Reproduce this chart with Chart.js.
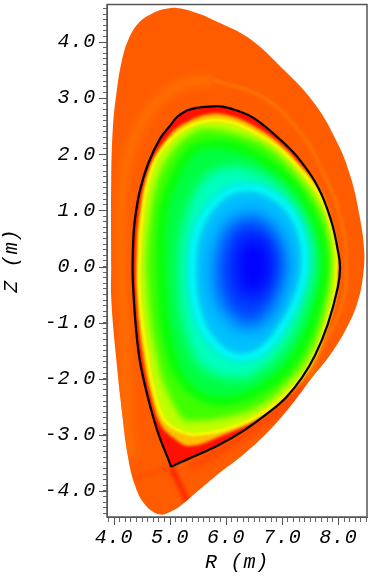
<!DOCTYPE html>
<html>
<head>
<meta charset="utf-8">
<style>
  html, body { margin: 0; padding: 0; background: #fff; }
  canvas { display: block; }
</style>
<script src="https://cdn.jsdelivr.net/npm/chart.js@4"></script>
</head>
<body>
<canvas id="myChart" width="371" height="577"></canvas>
<script>
// ticks
const majorR = [4, 5, 6, 7, 8];
const majorZ = [-4, -3, -2, -1, 0, 1, 2, 3, 4];

// outer edge of the map
const outerR = [3.95, 3.95, 4.02, 4.14, 4.25, 4.37, 4.55, 4.82, 5.05, 5.19, 5.78, 6.39, 6.98, 7.57, 7.87, 8.17, 8.35, 8.44, 8.46, 8.37, 8.22, 7.99, 7.57, 6.98, 6.39, 5.78, 5.50, 5.19, 4.95, 4.68, 4.43, 4.25, 4.14, 4.05, 3.98, 3.95, 3.95];
const outerZ = [-0.02, -0.55, -1.44, -2.57, -3.40, -3.89, -4.24, -4.42, -4.35, -4.26, -3.76, -3.28, -2.69, -1.93, -1.55, -1.05, -0.61, -0.16, 0.29, 0.94, 1.59, 2.19, 2.91, 3.55, 4.08, 4.39, 4.51, 4.60, 4.60, 4.51, 4.33, 4.03, 3.67, 3.14, 2.48, 1.53, -0.02];

// streaks outside the black line
const bandLeftR = [4.33, 4.23, 4.20, 4.14, 4.14, 4.29, 4.64, 5.18, 5.78];
const bandLeftZ = [-3.40, -2.75, -1.27, -0.43, 1.18, 2.07, 2.78, 3.23, 3.32];
const bandRightR = [5.78, 6.67, 7.33, 7.74, 8.05, 8.14, 8.05, 7.74, 7.46];
const bandRightZ = [3.32, 3.01, 2.37, 1.66, 0.82, -0.02, -0.73, -1.39, -2.03];
const legRedR = [5.02, 5.18, 5.32];
const legRedZ = [-3.57, -3.91, -4.21];
const legLeftR = [5.02, 4.64, 4.37];
const legLeftZ = [-3.57, -3.69, -3.78];
const lowerRedR = [5.35, 5.96, 6.80, 7.39];
const lowerRedZ = [-3.58, -3.23, -2.67, -2.14];

// black line
const sepR = [5.02, 4.77, 4.59, 4.46, 4.39, 4.34, 4.33, 4.34, 4.37, 4.46, 4.61, 4.82, 5.00, 5.12, 5.30, 5.48, 5.71, 5.94, 6.19, 6.50, 6.92, 7.28, 7.64, 7.87, 7.99, 8.03, 7.99, 7.81, 7.58, 7.35, 7.08, 6.80, 6.32, 5.85, 5.19, 5.02];
const sepZ = [-3.57, -2.92, -2.28, -1.68, -1.09, -0.37, -0.02, 0.41, 0.82, 1.35, 1.84, 2.28, 2.51, 2.66, 2.78, 2.83, 2.85, 2.85, 2.78, 2.64, 2.30, 1.94, 1.41, 0.82, 0.29, -0.02, -0.37, -1.03, -1.59, -1.98, -2.32, -2.57, -2.92, -3.19, -3.49, -3.57];

// colour contours, from the edge to the middle
const orangeR = [4.39, 4.40, 4.44, 4.52, 4.64, 4.82, 5.05, 5.35, 5.96, 6.57, 7.03, 7.46, 7.77, 7.94, 8.00, 7.98, 7.85, 7.66, 7.29, 6.92, 6.50, 6.09, 5.72, 5.35, 5.02, 4.64, 4.44, 4.39];
const orangeZ = [0.00, -0.37, -1.00, -1.62, -2.22, -2.80, -3.05, -3.20, -3.00, -2.72, -2.36, -1.87, -1.19, -0.55, -0.02, 0.26, 0.86, 1.38, 1.85, 2.22, 2.50, 2.68, 2.72, 2.60, 2.37, 1.76, 0.86, 0.00];
const yellowR = [4.45, 4.45, 4.50, 4.59, 4.70, 4.87, 5.05, 5.35, 5.50, 5.96, 6.57, 7.03, 7.46, 7.74, 7.92, 7.96, 7.96, 7.83, 7.64, 7.28, 6.92, 6.50, 6.09, 5.68, 5.35, 5.00, 4.68, 4.50, 4.45];
const yellowZ = [0.00, -0.37, -0.96, -1.57, -2.16, -2.69, -2.87, -2.99, -2.99, -2.91, -2.66, -2.30, -1.80, -1.14, -0.55, -0.02, 0.23, 0.82, 1.30, 1.76, 2.12, 2.39, 2.57, 2.60, 2.50, 2.25, 1.76, 0.82, 0.00];
const limeR = [4.57, 4.64, 4.75, 4.89, 5.21, 5.30, 5.89, 6.55, 7.03, 7.46, 7.71, 7.87, 7.78, 7.56, 7.21, 6.82, 6.39, 5.64, 5.35, 5.05, 4.77, 4.62, 4.57];
const limeZ = [0.00, -0.91, -1.53, -2.09, -2.71, -2.75, -2.71, -2.51, -2.14, -1.60, -0.93, -0.02, 0.73, 1.23, 1.69, 2.07, 2.30, 2.46, 2.35, 2.07, 1.53, 0.71, 0.00];
const greenR = [4.84, 4.88, 5.00, 5.23, 5.62, 6.07, 6.51, 7.05, 7.44, 7.67, 7.74, 7.67, 7.44, 7.08, 6.60, 6.16, 5.75, 5.39, 5.14, 4.90, 4.84, 4.84];
const greenZ = [0.00, -0.78, -1.50, -2.03, -2.35, -2.39, -2.25, -1.85, -1.23, -0.52, -0.02, 0.55, 1.09, 1.57, 1.94, 2.14, 2.19, 2.07, 1.71, 1.09, 0.46, 0.00];
const springR = [5.15, 5.18, 5.32, 5.58, 6.16, 6.58, 7.03, 7.36, 7.57, 7.51, 7.29, 6.95, 6.50, 6.08, 5.70, 5.40, 5.19, 5.15];
const springZ = [-0.03, -0.70, -1.32, -1.80, -2.00, -1.87, -1.45, -0.80, 0.00, 0.55, 1.04, 1.44, 1.70, 1.78, 1.65, 1.25, 0.50, -0.03];
const cyanR = [5.39, 5.44, 5.62, 5.93, 6.25, 6.64, 7.01, 7.28, 7.40, 7.35, 7.14, 6.78, 6.41, 5.98, 5.62, 5.44, 5.39];
const cyanZ = [-0.07, -0.61, -1.14, -1.50, -1.62, -1.50, -1.05, -0.52, 0.02, 0.55, 1.00, 1.30, 1.41, 1.30, 0.91, 0.46, -0.07];
const azureR = [5.80, 5.89, 6.16, 6.39, 6.69, 6.92, 7.05, 6.96, 6.74, 6.46, 6.10, 5.89, 5.80];
const azureZ = [-0.07, -0.61, -0.96, -1.07, -0.93, -0.52, 0.02, 0.46, 0.78, 0.91, 0.78, 0.43, -0.07];
const blueR = [6.16, 6.25, 6.48, 6.71, 6.82, 6.71, 6.48, 6.25, 6.16];
const blueZ = [0.02, -0.43, -0.55, -0.39, 0.05, 0.43, 0.55, 0.43, 0.02];

function pts(rs, zs) {
    return rs.map((r, i) => ({ x: r, y: zs[i] }));
}

// filled contour
function area(rs, zs, color, blur) {
    return { data: pts(rs, zs), fillColor: color, blur: blur, borderWidth: 0 };
}

// stroked streak, kept inside the outer edge
function streak(rs, zs, color, width, blur) {
    return { data: pts(rs, zs), borderColor: color, borderWidth: width, blur: blur, clipOuter: true };
}

// bottom layer first. fill colour is halfway to the next contour colour,
// the pure yellow, green and cyan are put back as soft strokes on their contours
const layers = [
    area(outerR, outerZ, '#ff5c00', 0),
    streak(bandLeftR, bandLeftZ, '#ff7000', 10, 4),
    streak(bandRightR, bandRightZ, '#ff7600', 3, 1.5),
    streak(lowerRedR, lowerRedZ, '#ff4800', 9, 3),
    streak(legLeftR, legLeftZ, '#ff4c00', 3, 2),
    streak(legRedR, legRedZ, '#ff2000', 5, 2),
    area(sepR, sepZ, '#ff1000', 0),
    area(orangeR, orangeZ, '#ffc000', 1.5),
    area(yellowR, yellowZ, '#c0ff00', 2),
    streak(yellowR, yellowZ, '#ffff00', 2.5, 1),
    area(limeR, limeZ, '#40ff00', 3),
    area(greenR, greenZ, '#00ff40', 5),
    streak(greenR, greenZ, '#00ff00', 6, 3),
    area(springR, springZ, '#00ffc0', 6),
    area(cyanR, cyanZ, '#00c0ff', 6),
    streak(cyanR, cyanZ, '#00ffff', 5, 2.5),
    area(azureR, azureZ, '#0040ff', 9),
    area(blueR, blueZ, '#0000ff', 9),
    streak(sepR, sepZ, '#000000', 2.2, 0)
];
layers.forEach((l, i) => {
    l.order = layers.length - i;
    l.showLine = true;
    l.pointRadius = 0;
    l.tension = 0.4;
    l.fill = false;
    l.borderJoinStyle = 'miter';
});

const contourPlugin = {
    id: 'contourPlugin',
    beforeDraw(chart) {
        chart.ctx.letterSpacing = '0.8px';
    },
    beforeDatasetDraw(chart, args) {
        const ctx = chart.ctx;
        const ds = chart.data.datasets[args.index];
        ctx.save();
        if (ds.clipOuter) {
            ctx.beginPath();
            chart.getDatasetMeta(0).dataset.path(ctx);
            ctx.closePath();
            ctx.clip();
        }
        if (ds.blur) ctx.filter = 'blur(' + ds.blur + 'px)';
        if (ds.fillColor) {
            ctx.beginPath();
            args.meta.dataset.path(ctx);
            ctx.closePath();
            ctx.fillStyle = ds.fillColor;
            ctx.fill();
        }
    },
    afterDatasetDraw(chart) {
        chart.ctx.restore();
    },
    // frame and long ticks
    afterDraw(chart) {
        const ctx = chart.ctx;
        const a = chart.chartArea;
        const x = chart.scales.x;
        const y = chart.scales.y;
        ctx.save();
        ctx.strokeStyle = '#555';
        ctx.lineWidth = 1.5;
        ctx.strokeRect(a.left, a.top, a.right - a.left, a.bottom - a.top);
        ctx.lineWidth = 1;
        ctx.beginPath();
        majorR.forEach(v => {
            const p = Math.round(x.getPixelForValue(v)) + 0.5;
            ctx.moveTo(p, a.bottom);
            ctx.lineTo(p, a.bottom + 8);
        });
        majorZ.forEach(v => {
            const p = Math.round(y.getPixelForValue(v)) + 0.5;
            ctx.moveTo(a.left, p);
            ctx.lineTo(a.left - 8, p);
        });
        ctx.stroke();
        ctx.restore();
    }
};

const labelFont = { family: '"Liberation Mono"', style: 'italic', size: 20 };

function onlyMajor(v) {
    return Math.abs(v - Math.round(v)) < 0.001 ? v.toFixed(1) : '';
}

const ctx = document.getElementById('myChart');

const myChart = new Chart(ctx, {
    type: 'scatter',
    data: { datasets: layers },
    options: {
        responsive: false,
        animation: false,
        layout: { padding: { top: 4.5, right: 4, left: 0, bottom: 0 } },
        plugins: { legend: { display: false }, tooltip: { enabled: false } },
        scales: {
            x: {
                min: 3.875,
                max: 8.51,
                afterFit(s) { s.height = 60; s.paddingLeft = 0; s.paddingRight = 0; },
                border: { color: '#555', width: 1 },
                grid: { drawOnChartArea: false, tickLength: 5, tickColor: '#666' },
                ticks: { stepSize: 0.1, includeBounds: false, autoSkip: false, maxRotation: 0, padding: 4, color: '#000', font: labelFont, callback: onlyMajor },
                title: { display: true, text: 'R (m)', color: '#000', font: labelFont, padding: { top: 0, bottom: 2 } }
            },
            y: {
                min: -4.465,
                max: 4.67,
                afterFit(s) { s.width = 107; s.paddingTop = 0; s.paddingBottom = 0; },
                border: { color: '#555', width: 1 },
                grid: { drawOnChartArea: false, tickLength: 4, tickColor: '#666' },
                ticks: { stepSize: 0.1, includeBounds: false, autoSkip: false, maxRotation: 0, padding: 7, color: '#000', font: labelFont, callback: onlyMajor },
                title: { display: true, text: 'Z (m)', color: '#000', font: labelFont, padding: { top: 0, bottom: 0 } }
            }
        }
    },
    plugins: [contourPlugin]
});
</script>
</body>
</html>
